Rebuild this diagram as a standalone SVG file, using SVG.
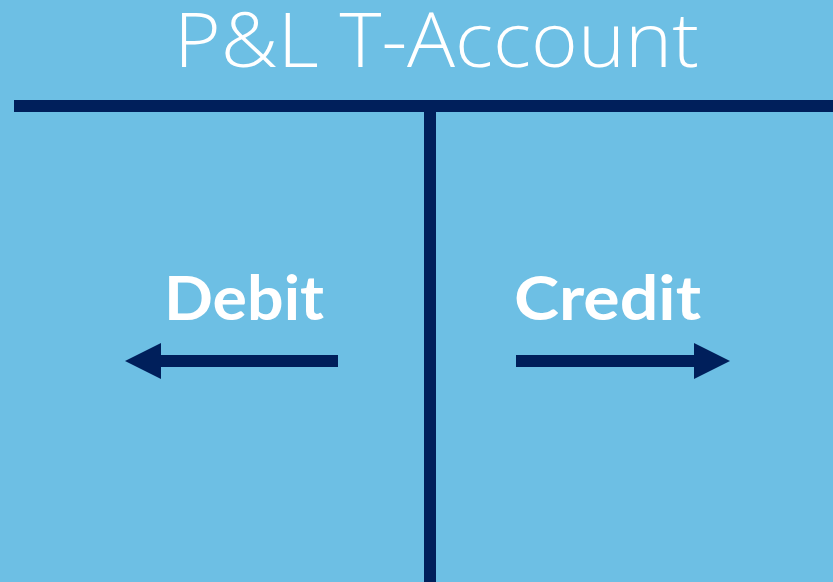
<svg xmlns="http://www.w3.org/2000/svg" width="833" height="582" viewBox="0 0 833 582">
  <style>
    .bar { fill: #001F5B; }
    .title { font-family: "Open Sans", "Liberation Sans", sans-serif; font-weight: 300; font-size: 76px; fill: #FFFFFF; }
    .label { font-family: Lato, "Liberation Sans", sans-serif; font-weight: 700; font-size: 62px; fill: #FFFFFF; }
    .arrow { fill: #001F5B; }
  </style>
  <rect x="0" y="0" width="833" height="582" fill="#6DBFE4"/>
  <g id="title">
    <text class="title" x="174" y="67" textLength="525" lengthAdjust="spacingAndGlyphs">P&amp;L T-Account</text>
  </g>
  <g id="t-frame">
    <rect class="bar" x="14" y="100" width="819" height="12"/>
    <rect class="bar" x="424" y="100" width="12" height="482"/>
  </g>
  <g id="debit">
    <text class="label" x="164" y="320" textLength="160" lengthAdjust="spacingAndGlyphs">Debit</text>
  </g>
  <g id="credit">
    <text class="label" x="514" y="320" textLength="187" lengthAdjust="spacingAndGlyphs">Credit</text>
  </g>
  <g id="connectors">
    <polygon class="arrow" points="338,355 161,355 161,343 125,361 161,379 161,367 338,367"/>
    <polygon class="arrow" points="516,355 694,355 694,343 730,361 694,379 694,367 516,367"/>
  </g>
</svg>
